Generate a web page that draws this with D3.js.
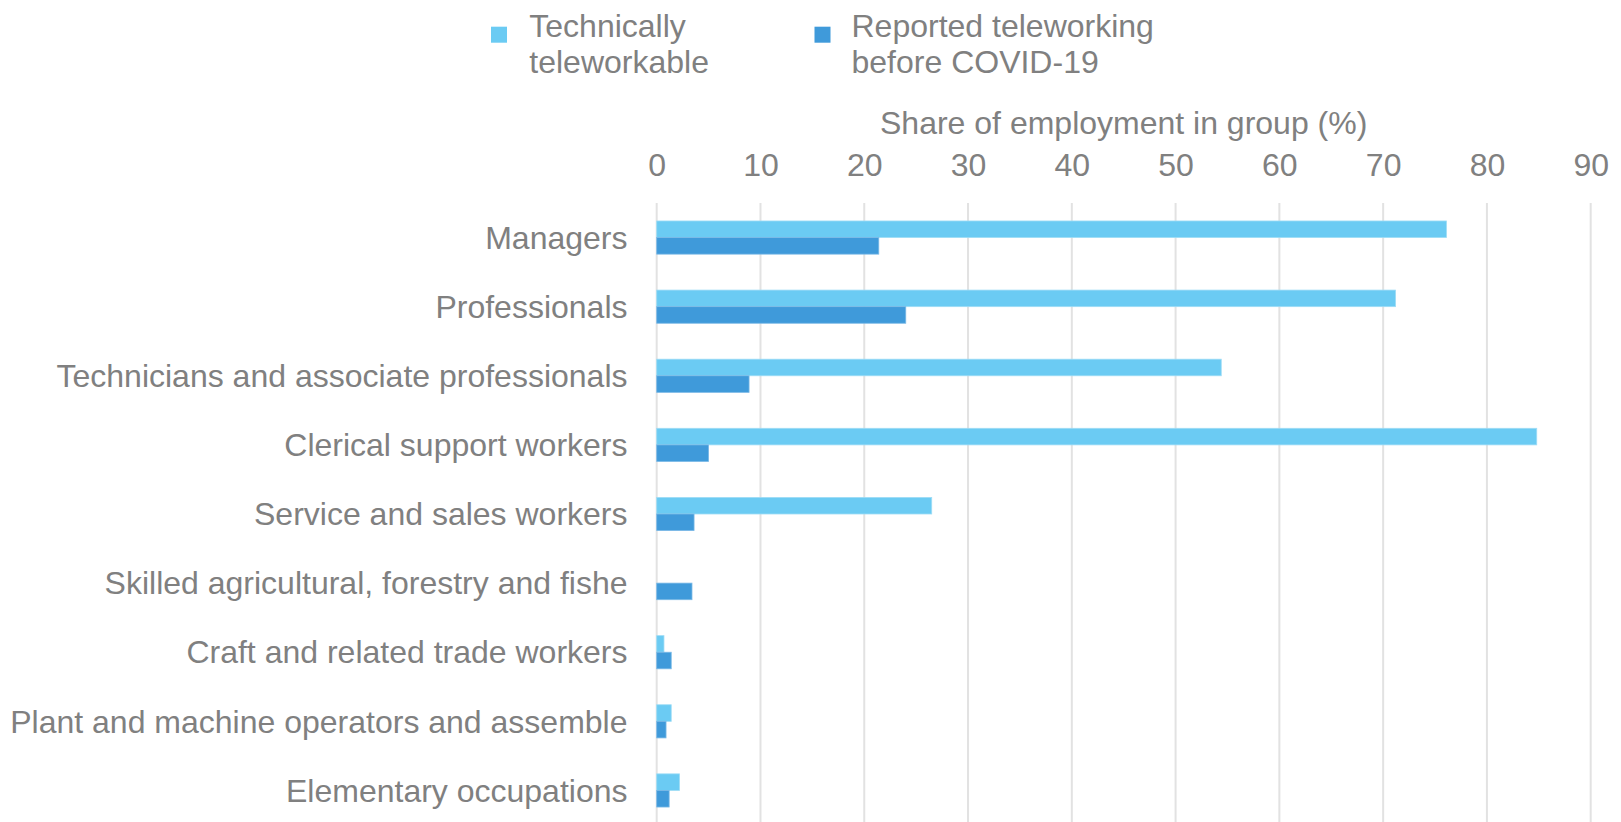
<!DOCTYPE html>
<html>
<head>
<meta charset="utf-8">
<script src="https://cdn.jsdelivr.net/npm/d3@7"></script>
<style>
  html, body { margin: 0; padding: 0; background: #fff; }
  svg { display: block; }
  text { font-family: "Liberation Sans", Arial, sans-serif; fill: #808080; }
</style>
</head>
<body>
<svg id="chart" width="1621" height="822"></svg>
<script>
// Occupation groups (ISCO major groups), top to bottom
const categories = [
  "Managers",
  "Professionals",
  "Technicians and associate professionals",
  "Clerical support workers",
  "Service and sales workers",
  "Skilled agricultural, forestry and fishe",
  "Craft and related trade workers",
  "Plant and machine operators and assemble",
  "Elementary occupations"
];

// Share of employment in group (%)
const teleworkable = [76.1, 71.2, 54.4, 84.8, 26.5, 0, 0.7, 1.4, 2.2];
const reportedBefore = [21.4, 24.0, 8.9, 5.0, 3.6, 3.4, 1.4, 0.9, 1.2];

const seriesNames = [["Technically", "teleworkable"], ["Reported teleworking", "before COVID-19"]];
const seriesColors = ["#6bcbf3", "#3f9ada"];
const xTicks = [0, 10, 20, 30, 40, 50, 60, 70, 80, 90];

const svg = d3.select("#chart");
const fontSize = 32;
const fontFamily = "'Liberation Sans', Arial, sans-serif";

const x = d3.scaleLinear().domain([0, 90]).range([656.7, 1590.7]);
const y = d3.scaleBand().domain(categories).range([203, 825]).paddingInner(0.52).paddingOuter(0.26);
const sub = d3.scaleBand().domain([0, 1]).range([0, y.bandwidth()]);

// vertical gridlines
svg.append("g")
  .selectAll("line")
  .data(xTicks)
  .join("line")
  .attr("x1", d => x(d)).attr("x2", d => x(d))
  .attr("y1", 203).attr("y2", 822)
  .attr("stroke", "#e2e2e2")
  .attr("stroke-width", 2);

// top axis with tick labels
const xAxis = d3.axisTop(x).tickValues(xTicks).tickSize(0).tickPadding(0);
const gx = svg.append("g").attr("transform", "translate(0,175.5)").call(xAxis);
gx.select(".domain").remove();
gx.selectAll("text")
  .attr("dy", 0)
  .style("font-size", fontSize + "px")
  .style("font-family", fontFamily)
  .attr("fill", "#808080");

// axis title
svg.append("text")
  .attr("x", (x(0) + x(90)) / 2)
  .attr("y", 133.5)
  .attr("text-anchor", "middle")
  .style("font-size", fontSize + "px")
  .text("Share of employment in group (%)");

// category axis labels
const yAxis = d3.axisLeft(y).tickSize(0).tickPadding(0);
const gy = svg.append("g").attr("transform", "translate(627.5,0)").call(yAxis);
gy.select(".domain").remove();
gy.selectAll("text")
  .attr("dy", "0.35em")
  .style("font-size", fontSize + "px")
  .style("font-family", fontFamily)
  .attr("fill", "#808080");

// bars
const series = [teleworkable, reportedBefore];
series.forEach((vals, si) => {
  svg.append("g")
    .selectAll("rect")
    .data(categories.map((c, i) => ({ c, v: vals[i] })).filter(d => d.v > 0))
    .join("rect")
    .attr("x", x(0))
    .attr("y", d => y(d.c) + sub(si))
    .attr("width", d => x(d.v) - x(0))
    .attr("height", sub.bandwidth())
    .attr("fill", seriesColors[si])
    .attr("stroke", si === 0 ? "#9edcf6" : "#7ab9e6")
    .attr("stroke-width", 0.8);
});

// legend
const legendItems = [
  { sx: 491, tx: 529.3 },
  { sx: 814.5, tx: 851.5 }
];
legendItems.forEach((it, i) => {
  svg.append("rect")
    .attr("x", it.sx).attr("y", 26.7)
    .attr("width", 16).attr("height", 16)
    .attr("fill", seriesColors[i]);
  const t = svg.append("text")
    .attr("x", it.tx).attr("y", 37)
    .style("font-size", fontSize + "px");
  seriesNames[i].forEach((line, li) => {
    t.append("tspan")
      .attr("x", it.tx)
      .attr("dy", li === 0 ? 0 : 36)
      .text(line);
  });
});
</script>
</body>
</html>
